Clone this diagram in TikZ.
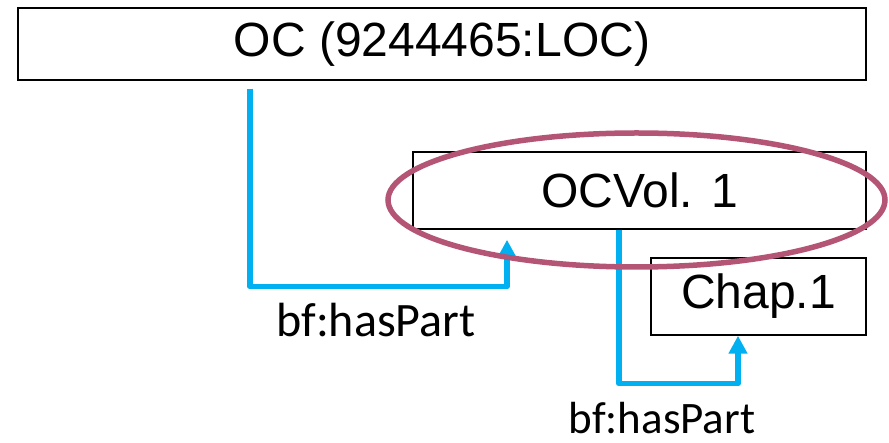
\documentclass[tikz,border=0pt]{standalone}
\usepackage{fontspec}
\setmainfont{Liberation Sans}
\newfontfamily\lblfont{Carlito}
\usetikzlibrary{arrows.meta}
\usetikzlibrary{positioning}
\definecolor{partblue}{RGB}{0,176,240}
\definecolor{ringmauve}{RGB}{181,85,118}
\tikzstyle{itembox}=[rectangle,draw=black,line width=1.5pt,fill=white,inner sep=0pt,font=\fontsize{48}{56}\selectfont]
\tikzstyle{haspart} = [draw,partblue,line width=5.5pt,line join=round,-{Triangle[width=18pt,length=18pt]}]
\tikzstyle{partlabel} = [anchor=base,font=\lblfont\fontsize{48}{56}\selectfont]

\begin{document}
\begin{tikzpicture}[x=1pt,y=-1pt]

  \useasboundingbox (0,0) rectangle (889,443);

   \foreach \x/\y/\w/\h/\name/\label in { 442/44/848/72/oc/{OC (9244465:LOC)}, 639.5/190.5/453/77/vol/{OCVol. 1}, 758.5/296.5/215/77/chap/{Chap.1} }
          \node[itembox, minimum width=\w pt, minimum height=\h pt] (\name) at (\x, \y) {\label};

   % bf:hasPart links
   \draw[haspart] ([xshift=-192pt,yshift=-8pt]oc.south) |- ([xshift=-132.5pt,yshift=-57pt]vol.south) -- ([xshift=-132.5pt,yshift=-10pt]vol.south);
   \draw[haspart] ([xshift=-20.5pt]vol.south) |- ([xshift=-20.5pt,yshift=-48pt]chap.south) -- ([xshift=-20.5pt]chap.south);

   \node[partlabel] (lab1) at (376, 337) {bf:hasPart};
   \node[partlabel, font=\lblfont\fontsize{45}{52}\selectfont] (lab2) at (662, 434) {bf:hasPart};

   \draw[ringmauve, line width=5.5pt] (636.5, 200) ellipse [x radius=248.5pt, y radius=67pt];

   \end{tikzpicture}
\end{document}
